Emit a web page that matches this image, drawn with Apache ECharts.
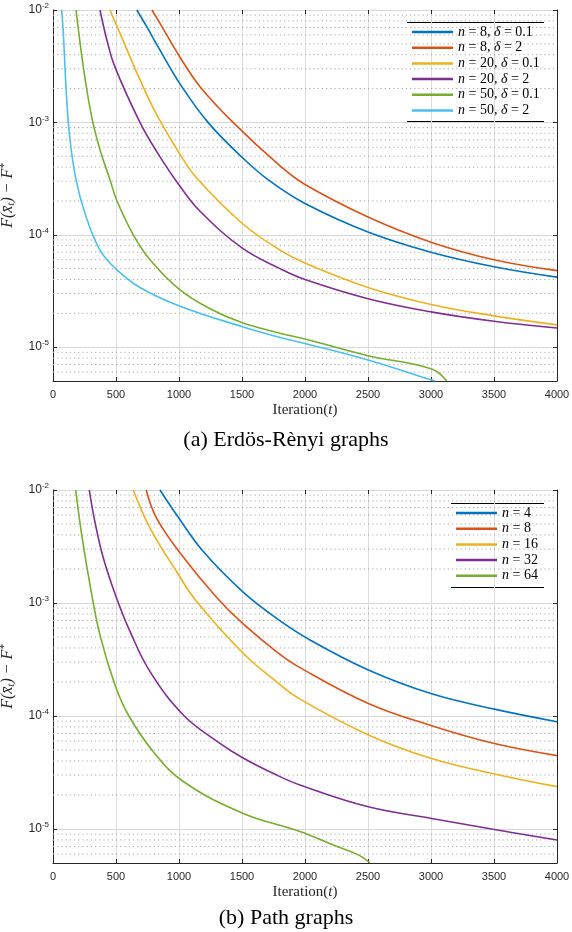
<!DOCTYPE html>
<html>
<head>
<meta charset="utf-8">
<script src="https://cdn.jsdelivr.net/npm/echarts@6/dist/echarts.min.js"></script>
<style>
html, body { margin: 0; padding: 0; background: #fff; }
#chart { width: 572px; height: 932px; }
</style>
</head>
<body>
<div id="chart"></div>
<script>
// axes
var ITER_MIN = 0;
var ITER_MAX = 4000;
var ITER_STEP = 500;
var GAP_MIN = 5e-6;
var GAP_MAX = 1e-2;

// (a) Erdos-Renyi graphs : [iteration, F(x_t) - F*]
var erN8d01 = [[665, 1e-2], [744, 7.1e-3], [849, 4.4e-3], [1008, 2.2e-3], [1230, 1e-3], [1500, 4.9e-4], [1709, 3.08e-4], [2000, 1.9e-4], [2500, 1.06e-4], [3000, 7.0e-5], [3500, 5.2e-5], [4000, 4.2e-5]];
var erN8d2 = [[785, 1e-2], [849, 7.6e-3], [1008, 3.8e-3], [1167, 2.08e-3], [1429, 1e-3], [1802, 4.1e-4], [2000, 2.8e-4], [2500, 1.44e-4], [3000, 8.6e-5], [3500, 6.0e-5], [4000, 4.8e-5]];
var erN20d01 = [[452, 1e-2], [532, 6.2e-3], [690, 2.4e-3], [823, 1.17e-3], [1008, 5.2e-4], [1140, 3.2e-4], [1503, 1.26e-4], [1802, 7.3e-5], [2000, 5.6e-5], [2500, 3.4e-5], [3000, 2.4e-5], [3500, 1.9e-5], [4000, 1.58e-5]];
var erN20d2 = [[373, 1e-2], [426, 5.5e-3], [492, 3.1e-3], [690, 1e-3], [823, 5.5e-4], [1008, 2.7e-4], [1167, 1.62e-4], [1503, 7.6e-5], [1802, 5.0e-5], [2000, 4.0e-5], [2500, 2.7e-5], [3000, 2.06e-5], [3500, 1.7e-5], [4000, 1.48e-5]];
var erN50d01 = [[183, 1e-2], [241, 3.1e-3], [307, 1.12e-3], [373, 5.7e-4], [452, 3.1e-4], [505, 2.04e-4], [637, 1.0e-4], [770, 6.0e-5], [1003, 3.27e-5], [1246, 2.2e-5], [1503, 1.65e-5], [1802, 1.33e-5], [2000, 1.18e-5], [2500, 8.4e-6], [3005, 6.4e-6], [3125, 5e-6]];
var erN50d2 = [[69, 1e-2], [82, 6.2e-3], [109, 1.58e-3], [135, 7.0e-4], [183, 3.08e-4], [254, 1.55e-4], [373, 7.3e-5], [505, 4.9e-5], [690, 3.4e-5], [1003, 2.33e-5], [1503, 1.52e-5], [1802, 1.22e-5], [2000, 1.08e-5], [2500, 7.7e-6], [3005, 5.1e-6], [3030, 5e-6]];

// (b) Path graphs
var pathN4 = [[849, 1e-2], [982, 6.0e-3], [1193, 2.85e-3], [1505, 1.26e-3], [1775, 7.3e-4], [2040, 4.7e-4], [2503, 2.55e-4], [3005, 1.57e-4], [3503, 1.15e-4], [4000, 8.9e-5]];
var pathN8 = [[740, 1e-2], [823, 5.6e-3], [1021, 2.66e-3], [1299, 1.12e-3], [1505, 6.6e-4], [1775, 3.7e-4], [1960, 2.68e-4], [2503, 1.29e-4], [3005, 8.2e-5], [3503, 5.7e-5], [4000, 4.46e-5]];
var pathN16 = [[637, 1e-2], [770, 4.6e-3], [982, 1.89e-3], [1140, 1.03e-3], [1505, 3.63e-4], [1775, 2.0e-4], [1960, 1.41e-4], [2503, 6.8e-5], [3005, 4.2e-5], [3503, 3.07e-5], [4000, 2.37e-5]];
var pathN32 = [[288, 1e-2], [333, 5.2e-3], [400, 2.49e-3], [505, 1.1e-3], [611, 5.6e-4], [770, 2.47e-4], [1034, 1.02e-4], [1299, 6.0e-5], [1505, 4.27e-5], [1775, 3.0e-5], [1960, 2.45e-5], [2503, 1.57e-5], [3005, 1.24e-5], [3503, 9.9e-6], [4000, 8.0e-6]];
var pathN64 = [[180, 1e-2], [228, 4.0e-3], [294, 1.44e-3], [373, 5.2e-4], [492, 1.88e-4], [598, 1.02e-4], [796, 4.83e-5], [1034, 2.63e-5], [1505, 1.38e-5], [1960, 9.5e-6], [2225, 7.2e-6], [2423, 5.9e-6], [2516, 5e-6]];

var erNames = ['n = 8, δ = 0.1', 'n = 8, δ = 2', 'n = 20, δ = 0.1', 'n = 20, δ = 2', 'n = 50, δ = 0.1', 'n = 50, δ = 2'];
var erLabels = ['{i|n} = 8, {i|δ} = 0.1', '{i|n} = 8, {i|δ} = 2', '{i|n} = 20, {i|δ} = 0.1', '{i|n} = 20, {i|δ} = 2', '{i|n} = 50, {i|δ} = 0.1', '{i|n} = 50, {i|δ} = 2'];
var pathNames = ['n = 4', 'n = 8', 'n = 16', 'n = 32', 'n = 64'];
var pathLabels = ['{i|n} = 4', '{i|n} = 8', '{i|n} = 16', '{i|n} = 32', '{i|n} = 64'];

var colors = ['#0072BD', '#D95319', '#EDB120', '#7E2F8E', '#77AC30', '#4DBEEE'];
var SERIF = 'Liberation Serif';
var SANS = 'Liberation Sans';
var AX = '#262626';

// 2..9 x 10^k between the limits, drawn dotted
var minorGrid = [];
for (var e = -6; e <= -3; e++) {
	for (var m = 2; m <= 9; m++) {
		var v = m * Math.pow(10, e);
		if (v > GAP_MIN * 1.0001 && v < GAP_MAX) minorGrid.push(v);
	}
}

var chart = echarts.init(document.getElementById('chart'));

function powLabel(v) {
	var lg = Math.log10(v);
	var e = Math.round(lg);
	if (Math.abs(lg - e) > 1e-6) return '';
	return '{b|10}{s|' + e + '}';
}

function xAxes(gi) {
	return [{
		gridIndex: gi,
		type: 'value',
		min: ITER_MIN, max: ITER_MAX, interval: ITER_STEP,
		name: 'Iteration({i|t})',
		nameLocation: 'middle',
		nameGap: 22,
		nameTextStyle: {
			fontFamily: SERIF, fontSize: 15, color: AX,
			rich: { i: { fontFamily: SERIF, fontSize: 15, fontStyle: 'italic', color: AX } }
		},
		axisLine: { show: true, onZero: false, lineStyle: { color: AX, width: 1 } },
		axisTick: { show: true, inside: true, length: 4, lineStyle: { color: AX } },
		axisLabel: {
			fontFamily: SANS, fontSize: 11, color: AX, margin: 8,
			formatter: function(v) { return String(v); }
		},
		splitLine: { show: true, lineStyle: { color: '#dcdcdc', width: 1 } }
	}, {
		gridIndex: gi,
		type: 'value',
		position: 'top',
		min: ITER_MIN, max: ITER_MAX, interval: ITER_STEP,
		axisLine: { show: false },
		axisTick: { show: true, inside: true, length: 4, lineStyle: { color: AX } },
		axisLabel: { show: false },
		splitLine: { show: false }
	}];
}

function yAxes(gi) {
	return [{
		gridIndex: gi,
		type: 'log',
		logBase: 10,
		min: GAP_MIN, max: GAP_MAX,
		name: 'F(x̄{s|t}) − F{p|*}',
		nameLocation: 'middle',
		nameRotate: 90,
		nameGap: 36,
		nameTextStyle: {
			fontFamily: SERIF, fontSize: 16, fontStyle: 'italic', color: AX,
			rich: {
				s: { fontFamily: SERIF, fontSize: 11, fontStyle: 'italic', color: AX, padding: [7, 0, 0, 0] },
				p: { fontFamily: SERIF, fontSize: 11, color: AX, padding: [0, 0, 7, 0] }
			}
		},
		axisLine: { show: true, onZero: false, lineStyle: { color: AX, width: 1 } },
		axisTick: { show: true, inside: true, length: 4, lineStyle: { color: AX } },
		axisLabel: {
			formatter: powLabel,
			margin: 4,
			color: AX,
			rich: {
				b: { fontFamily: SANS, fontSize: 12, color: AX },
				s: { fontFamily: SANS, fontSize: 8, color: AX, padding: [0, 0, 8, 0] }
			}
		},
		splitLine: { show: true, lineStyle: { color: '#d6d6d6', width: 1 } }
	}, {
		gridIndex: gi,
		type: 'log',
		logBase: 10,
		position: 'right',
		min: GAP_MIN, max: GAP_MAX,
		axisLine: { show: true, onZero: false, lineStyle: { color: AX, width: 1 } },
		axisTick: { show: true, inside: true, length: 4, lineStyle: { color: AX } },
		axisLabel: { show: false },
		splitLine: { show: false }
	}];
}

function lineSeries(name, data, color, gi) {
	return {
		name: name,
		type: 'line',
		xAxisIndex: gi * 2,
		yAxisIndex: gi * 2,
		data: data,
		showSymbol: false,
		smooth: 0.4,
		clip: true,
		z: 3,
		lineStyle: { color: color, width: 1.6 },
		itemStyle: { color: color }
	};
}

function minorLines(gi) {
	return minorGrid.map(function(v) {
		return {
			type: 'line',
			xAxisIndex: gi * 2,
			yAxisIndex: gi * 2,
			data: [[ITER_MIN, v], [ITER_MAX, v]],
			showSymbol: false,
			silent: true,
			z: 1,
			lineStyle: { color: '#a8a8a8', type: [1.2, 3], width: 1 }
		};
	});
}

var erSeries = [erN8d01, erN8d2, erN20d01, erN20d2, erN50d01, erN50d2];
var pathSeries = [pathN4, pathN8, pathN16, pathN32, pathN64];
var series = minorLines(0).concat(minorLines(1));
erSeries.forEach(function(d, i) {
	series.push(lineSeries(erNames[i], d, colors[i], 0));
});
pathSeries.forEach(function(d, i) {
	series.push(lineSeries(pathNames[i], d, colors[i], 1));
});

function legendOf(names, labels, left, top) {
	return {
		orient: 'vertical',
		left: left,
		top: top,
		data: names,
		icon: 'rect',
		itemWidth: 41,
		itemHeight: 2.5,
		itemGap: 1.7,
		padding: 0,
		selectedMode: false,
		formatter: function(name) { return labels[names.indexOf(name)]; },
		textStyle: {
			fontFamily: SERIF, fontSize: 14, color: '#000', lineHeight: 14,
			rich: { i: { fontFamily: SERIF, fontSize: 14, fontStyle: 'italic', color: '#000', lineHeight: 14 } }
		}
	};
}

chart.setOption({
	animation: false,
	backgroundColor: '#fff',
	title: [{
		text: '(a) Erdös-Rènyi graphs',
		left: 'center', top: 424,
		textStyle: { fontFamily: SERIF, fontSize: 22, fontWeight: 'normal', color: '#000' }
	}, {
		text: '(b) Path graphs',
		left: 'center', top: 902,
		textStyle: { fontFamily: SERIF, fontSize: 22, fontWeight: 'normal', color: '#000' }
	}],
	grid: [
		{ left: 53, top: 10, width: 504, height: 371, containLabel: false, outerBoundsMode: 'none' },
		{ left: 53, top: 490, width: 504, height: 373, containLabel: false, outerBoundsMode: 'none' }
	],
	xAxis: xAxes(0).concat(xAxes(1)),
	yAxis: yAxes(0).concat(yAxes(1)),
	legend: [
		legendOf(erNames, erLabels, 412, 25),
		legendOf(pathNames, pathLabels, 456, 506)
	],
	graphic: [
		{ type: 'line', shape: { x1: 407, y1: 22.5, x2: 544, y2: 22.5 }, style: { stroke: '#000', lineWidth: 1 } },
		{ type: 'line', shape: { x1: 407, y1: 121.5, x2: 544, y2: 121.5 }, style: { stroke: '#000', lineWidth: 1 } },
		{ type: 'line', shape: { x1: 451, y1: 503.5, x2: 544, y2: 503.5 }, style: { stroke: '#000', lineWidth: 1 } },
		{ type: 'line', shape: { x1: 451, y1: 587.5, x2: 544, y2: 587.5 }, style: { stroke: '#000', lineWidth: 1 } }
	],
	series: series
});
</script>
</body>
</html>
